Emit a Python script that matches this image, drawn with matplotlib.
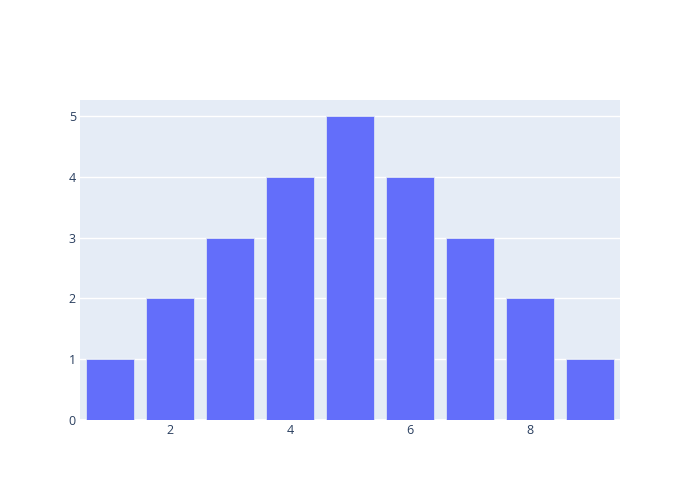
import matplotlib.pyplot as plt

x_vals = [1, 2, 3, 4, 5, 6, 7, 8, 9]
y_vals = [1, 2, 3, 4, 5, 4, 3, 2, 1]
x_ticks = [2, 4, 6, 8]
y_ticks = [0, 1, 2, 3, 4, 5]

plt.rcParams['font.family'] = ['Open Sans', 'DejaVu Sans']

fig = plt.figure(figsize=(7, 5), dpi=100)
ax = fig.add_axes([80/700, 80/500, 540/700, 320/500])
ax.set_facecolor('#E5ECF6')

ax.bar(x_vals, y_vals, width=0.8, color='#636EFA', edgecolor='#E5ECF6', linewidth=0.5, zorder=2)

ax.set_xlim(0.5, 9.5)
ax.set_ylim(0, 5.263)
ax.set_xticks(x_ticks)
ax.set_yticks(y_ticks)
ax.yaxis.grid(True, color='white', linewidth=1, zorder=1)
ax.set_axisbelow(True)
ax.axhline(0, color='white', linewidth=2, zorder=1)
for s in ax.spines.values():
    s.set_visible(False)
ax.tick_params(length=0, labelsize=9, colors='#2a3f5f')
ax.tick_params(axis='x', pad=3)
ax.tick_params(axis='y', pad=3)

fig.savefig('out.png', dpi=100)
